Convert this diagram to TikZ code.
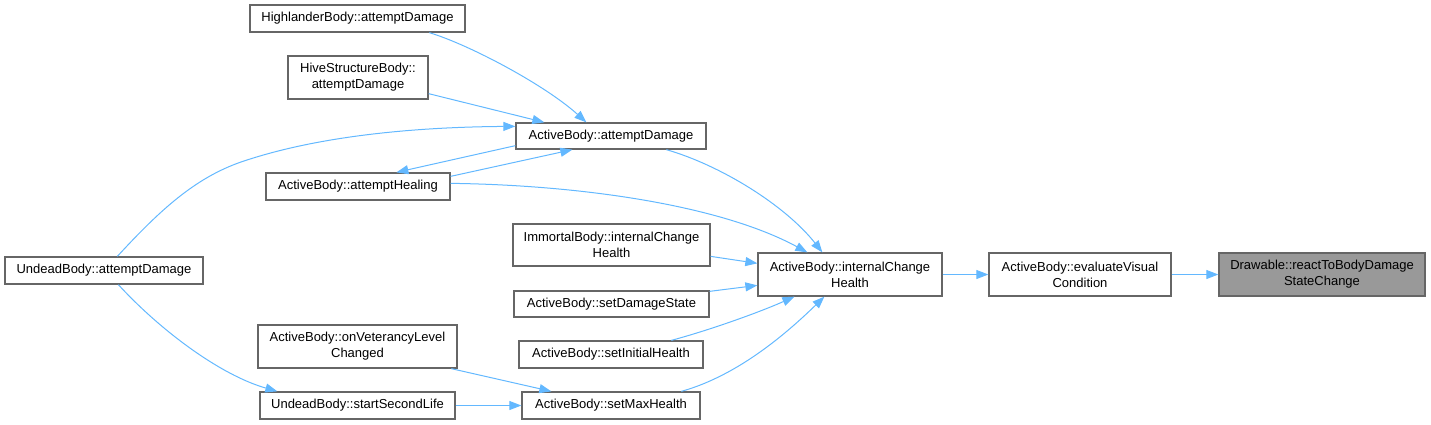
\documentclass[tikz,border=0pt]{standalone}
\usepackage{fontspec}
\setmainfont{Liberation Sans}
\usetikzlibrary{arrows.meta,calc}
\definecolor{edgeblue}{HTML}{63B8FF}
\definecolor{boxborder}{HTML}{666666}
\definecolor{hlfill}{HTML}{999999}
\tikzset{
  box/.style={draw=boxborder, fill=white, line width=1.3pt, inner sep=0pt,
    align=center, font=\fontsize{13}{16}\selectfont},
  hibox/.style={box, fill=hlfill},
  edge/.style={draw=edgeblue, line width=1pt, -{Triangle[length=12pt,width=9pt]}},
}
\begin{document}
\begin{tikzpicture}[x=1pt,y=-1pt]
\useasboundingbox (0,0) rectangle (1431,424);
% nodes
\node[box, minimum width=215pt, minimum height=27pt] (hl) at (357.5,18.5) {HighlanderBody::attemptDamage};
\node[box, minimum width=140pt, minimum height=43pt] (hive) at (358,77.5) {HiveStructureBody::\\attemptDamage};
\node[box, minimum width=190pt, minimum height=26pt] (abad) at (611,136) {ActiveBody::attemptDamage};
\node[box, minimum width=184pt, minimum height=27pt] (abheal) at (358,186.5) {ActiveBody::attemptHealing};
\node[box, minimum width=198pt, minimum height=27pt] (undad) at (104,270.5) {UndeadBody::attemptDamage};
\node[box, minimum width=199pt, minimum height=43pt] (onvet) at (357.5,346.5) {ActiveBody::onVeterancyLevel\\Changed};
\node[box, minimum width=195pt, minimum height=27pt] (ssl) at (357.5,405.5) {UndeadBody::startSecondLife};
\node[box, minimum width=197pt, minimum height=42pt] (imm) at (611.5,245) {ImmortalBody::internalChange\\Health};
\node[box, minimum width=195pt, minimum height=26pt] (sds) at (611.5,304) {ActiveBody::setDamageState};
\node[box, minimum width=184pt, minimum height=27pt] (sih) at (611,354.5) {ActiveBody::setInitialHealth};
\node[box, minimum width=178pt, minimum height=27pt] (smh) at (611,405.5) {ActiveBody::setMaxHealth};
\node[box, minimum width=184pt, minimum height=43pt] (ich) at (850,274.5) {ActiveBody::internalChange\\Health};
\node[box, minimum width=182pt, minimum height=43pt] (evc) at (1080,274.5) {ActiveBody::evaluateVisual\\Condition};
\node[hibox, minimum width=206pt, minimum height=43pt] (drw) at (1322,274.5) {Drawable::reactToBodyDamage\\StateChange};
% helper coordinates
\coordinate (u1) at (241,162);
% edges
\draw[edge] ($(hl.south west)+(180,0)$) .. controls (470,45) and (545,85) .. ($(abad.north west)+(71,0)$);
\draw[edge] ($(hive.south east)+(0,-6)$) -- ($(abad.north west)+(29,0)$);
\draw[edge] ($(undad.north west)+(113,0)$) .. controls (160,210) and (195,178) .. (u1)
  .. controls (320,135) and (420,127) .. ($(abad.north west)+(0,4)$);
\draw[edge] ($(abad.south west)+(0,-4)$) -- ($(abheal.north west)+(131,0)$);
\draw[edge] ($(abheal.north east)+(0,4)$) -- ($(abad.south west)+(57,0)$);
\draw[edge] ($(abad.south west)+(151,0)$) .. controls (720,165) and (785,205) .. ($(ich.north west)+(65,0)$);
\draw[edge] ($(abheal.north east)+(0,11)$) .. controls (580,185) and (720,205) .. ($(ich.north west)+(50,0)$);
\draw[edge] ($(imm.north east)+(0,33)$) -- ($(ich.north west)+(0,11)$);
\draw[edge] ($(sds.north east)+(0,1)$) -- ($(ich.north west)+(0,33)$);
\draw[edge] ($(sih.north west)+(153,0)$) .. controls (710,330) and (760,312) .. ($(ich.south west)+(37,0)$);
\draw[edge] ($(smh.north west)+(160,0)$) .. controls (740,375) and (790,330) .. ($(ich.south west)+(67,0)$);
\draw[edge] ($(undad.south west)+(114,0)$) .. controls (160,330) and (220,375) .. ($(ssl.north west)+(18,0)$);
\draw[edge] ($(onvet.south west)+(194,0)$) -- ($(smh.north west)+(30,0)$);
\draw[edge] (ssl.east) -- (smh.west);
\draw[edge] (ich.east) -- (evc.west);
\draw[edge] (evc.east) -- (drw.west);
\end{tikzpicture}
\end{document}
